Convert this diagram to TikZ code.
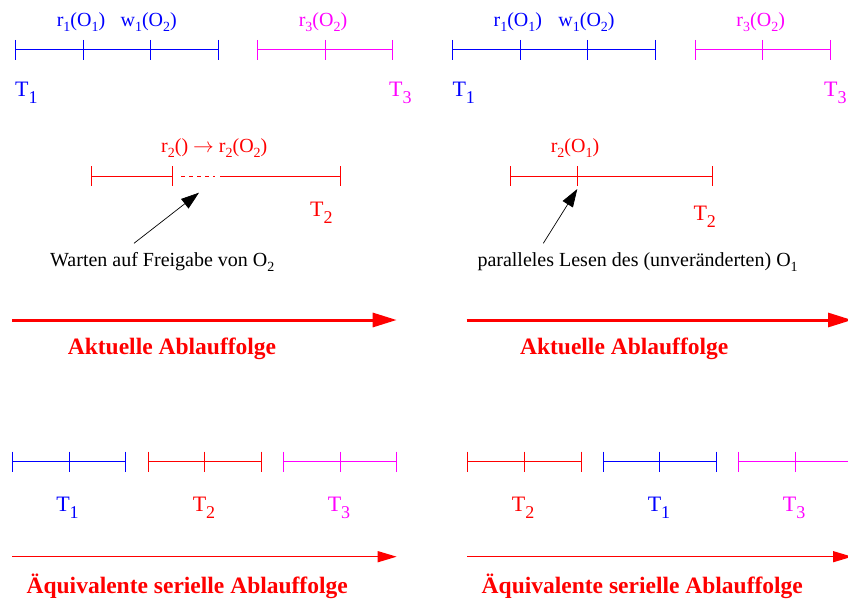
\documentclass[tikz,border=0pt]{standalone}
\usepackage{fontspec}
\setmainfont{Liberation Serif}
\usetikzlibrary{arrows.meta}
\definecolor{tblue}{RGB}{0,0,255}
\definecolor{tred}{RGB}{255,0,0}
\definecolor{tmag}{RGB}{255,0,255}
\newcommand\sbs[1]{\raisebox{-5pt}{\fontsize{14}{14}\selectfont #1}}
\newcommand\tsb[1]{\raisebox{-7pt}{\fontsize{18}{18}\selectfont #1}}
\tikzset{
  lbl/.style={inner sep=0pt, anchor=base, font=\fontsize{20}{24}\selectfont},
  tlbl/.style={inner sep=0pt, anchor=base west, font=\fontsize{22}{26}\selectfont},
  tclbl/.style={inner sep=0pt, anchor=base, font=\fontsize{22}{26}\selectfont},
  txt/.style={inner sep=0pt, anchor=base west, font=\fontsize{20}{24}\selectfont, text=black},
  ttl/.style={inner sep=0pt, anchor=base, font=\fontsize{23.5}{28}\selectfont\bfseries, text=tred},
  tl/.style={line width=1pt},
  bigarrow/.style={draw=tred, line width=3pt, -{Triangle[length=24pt,width=14pt]}},
  thinarrow/.style={draw=tred, line width=1.3pt, -{Triangle[length=19pt,width=11pt]}},
  note/.style={draw=black, line width=0.7pt, -{Triangle[length=18pt,width=12pt]}},
}
\begin{document}
\begin{tikzpicture}[x=1pt,y=-1pt]
\path[use as bounding box, fill=white] (0,0) rectangle (848,599);

% ---------- top left ----------
\draw[tblue,tl] (15.3,50) -- (218.3,50);
\foreach \x in {15.3,83.3,150.7,218.3} \draw[tblue,tl] (\x,40) -- (\x,60);
\draw[tmag,tl] (257.3,50) -- (392.3,50);
\foreach \x in {257.3,325,392.3} \draw[tmag,tl] (\x,40) -- (\x,60);
\node[lbl,text=tblue] (lr1) at (81,27) {r\sbs{1}(O\sbs{1})};
\node[lbl,text=tblue] (lw1) at (148.7,27) {w\sbs{1}(O\sbs{2})};
\node[lbl,text=tmag] (lr3) at (323,27) {r\sbs{3}(O\sbs{2})};
\node[tlbl,text=tblue] (lT1) at (15,97) {T\tsb{1}};
\node[tlbl,text=tmag] (lT3) at (389,97) {T\tsb{3}};

% ---------- top right ----------
\draw[tblue,tl] (452.7,50) -- (655,50);
\foreach \x in {452.7,520.3,587.3,655} \draw[tblue,tl] (\x,40) -- (\x,60);
\draw[tmag,tl] (695.7,50) -- (830,50);
\foreach \x in {695.7,762.3,830} \draw[tmag,tl] (\x,40) -- (\x,60);
\node[lbl,text=tblue] (rr1) at (517.8,27) {r\sbs{1}(O\sbs{1})};
\node[lbl,text=tblue] (rw1) at (586.5,27) {w\sbs{1}(O\sbs{2})};
\node[lbl,text=tmag] (rr3) at (760.7,27) {r\sbs{3}(O\sbs{2})};
\node[tlbl,text=tblue] (rT1) at (452.3,97) {T\tsb{1}};
\node[tlbl,text=tmag] (rT3) at (824,97) {T\tsb{3}};

% ---------- middle left ----------
\draw[tred,tl] (91.7,176) -- (172.3,176);
\draw[tred,tl,dash pattern=on 3.5pt off 4.5pt] (181,176) -- (215,176);
\draw[tred,tl] (220,176) -- (340,176);
\foreach \x in {91.7,172.3,340} \draw[tred,tl] (\x,166) -- (\x,186);
\node[lbl,text=tred] (lr2) at (214.3,153) {r\sbs{2}() $\rightarrow$ r\sbs{2}(O\sbs{2})};
\node[tlbl,text=tred] (lT2) at (310,216) {T\tsb{2}};
\node[txt] (lwait) at (50,266.7) {Warten auf Freigabe von O\sbs{2}};
\coordinate (lws) at (134,243.3);
\coordinate (lwt) at (199,192.7);
\draw[note] (lws) -- (lwt);

% ---------- middle right ----------
\draw[tred,tl] (510,176) -- (712.3,176);
\foreach \x in {510,577.3,712.3} \draw[tred,tl] (\x,166) -- (\x,186);
\node[lbl,text=tred] (rr2) at (575,153) {r\sbs{2}(O\sbs{1})};
\node[tlbl,text=tred] (rT2) at (693.3,220) {T\tsb{2}};
\node[txt] (rpar) at (477.3,266.7) {paralleles Lesen des (unveränderten) O\sbs{1}};
\coordinate (rps) at (543.3,243.3);
\coordinate (rpt) at (577.3,189);
\draw[note] (rps) -- (rpt);

% ---------- actual order arrows ----------
\coordinate (la1) at (12,320);
\coordinate (la2) at (396.7,320);
\draw[bigarrow] (la1) -- (la2);
\node[ttl] (lakt) at (172,354.3) {Aktuelle Ablauffolge};
\coordinate (ra1) at (466.7,320);
\coordinate (ra2) at (852,320);
\draw[bigarrow] (ra1) -- (ra2);
\node[ttl] (rakt) at (624.2,354.3) {Aktuelle Ablauffolge};

% ---------- bottom left ----------
\draw[tblue,tl] (12.3,461.7) -- (125.3,461.7);
\foreach \x in {12.3,69.3,125.3} \draw[tblue,tl] (\x,451.5) -- (\x,471.7);
\draw[tred,tl] (148.3,461.7) -- (261.3,461.7);
\foreach \x in {148.3,204.3,261.3} \draw[tred,tl] (\x,451.5) -- (\x,471.7);
\draw[tmag,tl] (283.3,461.7) -- (396.3,461.7);
\foreach \x in {283.3,340.3,396.3} \draw[tmag,tl] (\x,451.5) -- (\x,471.7);
\node[tclbl,text=tblue] (bT1) at (67.5,511.7) {T\tsb{1}};
\node[tclbl,text=tred] (bT2) at (204,511.7) {T\tsb{2}};
\node[tclbl,text=tmag] (bT3) at (339,511.7) {T\tsb{3}};
\coordinate (lb1) at (12,556.7);
\coordinate (lb2) at (396.7,556.7);
\draw[thinarrow] (lb1) -- (lb2);
\node[ttl] (laeq) at (187.2,593.3) {Äquivalente serielle Ablauffolge};

% ---------- bottom right ----------
\draw[tred,tl] (467.3,461.7) -- (581.3,461.7);
\foreach \x in {467.3,524,581.3} \draw[tred,tl] (\x,451.5) -- (\x,471.7);
\draw[tblue,tl] (603.3,461.7) -- (716.3,461.7);
\foreach \x in {603.3,659.3,716.3} \draw[tblue,tl] (\x,451.5) -- (\x,471.7);
\draw[tmag,tl] (738.3,461.7) -- (852.3,461.7);
\foreach \x in {738.3,795.3,852.3} \draw[tmag,tl] (\x,451.5) -- (\x,471.7);
\node[tclbl,text=tred] (cT2) at (523.2,511.7) {T\tsb{2}};
\node[tclbl,text=tblue] (cT1) at (659,511.7) {T\tsb{1}};
\node[tclbl,text=tmag] (cT3) at (794.2,511.7) {T\tsb{3}};
\coordinate (rb1) at (467.3,556.7);
\coordinate (rb2) at (852,556.7);
\draw[thinarrow] (rb1) -- (rb2);
\node[ttl] (raeq) at (642.3,593.3) {Äquivalente serielle Ablauffolge};
\end{tikzpicture}
\end{document}
